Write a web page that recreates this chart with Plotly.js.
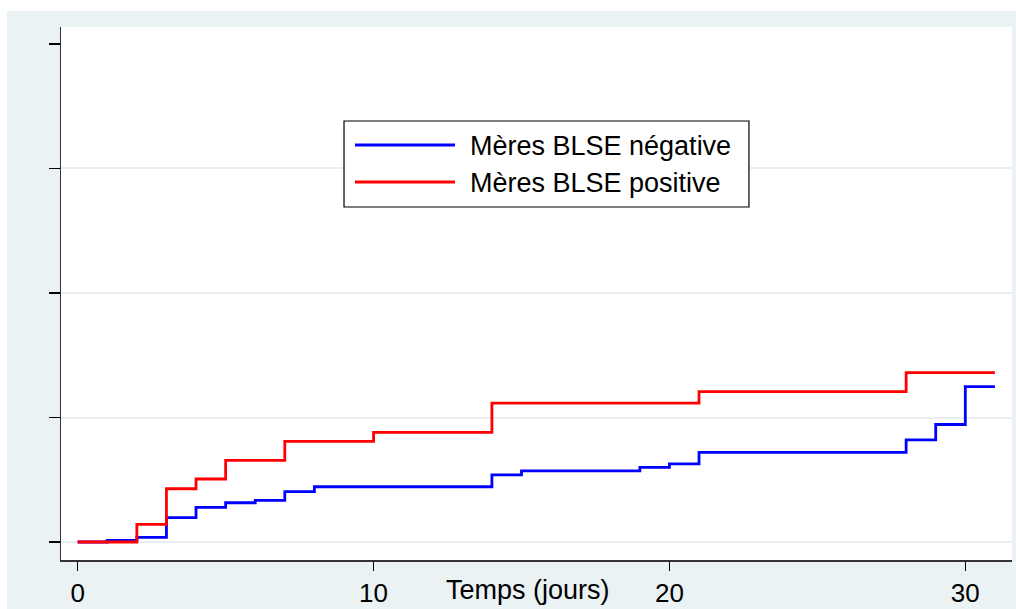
<!DOCTYPE html>
<html>
<head>
<meta charset="utf-8">
<script src="https://cdn.plot.ly/plotly-3.0.1.min.js"></script>
<style>
  html, body { margin: 0; padding: 0; background: #ffffff; width: 1016px; height: 609px; overflow: hidden; }
  #chart { position: absolute; left: 7px; top: 11px; width: 1009px; height: 598px; }
</style>
</head>
<body>
<div id="chart"></div>
<script>
// ---- Data ----
const seriesNames = ["Mères BLSE négative", "Mères BLSE positive"];
const seriesColors = ["#0000ff", "#ff0000"];

// Blue: Mères BLSE négative (step function, hv)
const negDays = [0, 1, 2, 3, 4, 5, 6, 7, 8, 14, 15, 19, 20, 21, 28, 29, 30, 31];
const negVals = [0, 0.0034, 0.0094, 0.0488, 0.0697, 0.0789, 0.0837, 0.101, 0.111, 0.135, 0.143, 0.150, 0.157, 0.180, 0.205, 0.236, 0.312, 0.312];

// Red: Mères BLSE positive
const posDays = [0, 2, 3, 4, 5, 7, 10, 14, 21, 28, 31];
const posVals = [0, 0.0355, 0.107, 0.1265, 0.164, 0.202, 0.220, 0.279, 0.302, 0.340, 0.340];

const xTickVals = [0, 10, 20, 30];
const xTickText = ["0", "10", "20", "30"];
const yTickVals = [0, 0.25, 0.5, 0.75, 1];
const yGridVals = [0, 0.25, 0.5, 0.75];
const xAxisTitle = "Temps (jours)";

// ---- Chart ----
const FONT = "Liberation Sans, Arial, Helvetica, sans-serif";
const xRange = [-0.564, 31.578];
const yRange = [-0.0361, 1.0341];

const traces = [
  { x: negDays, y: negVals, type: "scatter", mode: "lines", name: seriesNames[0],
    line: { shape: "hv", color: seriesColors[0], width: 2.8 }, showlegend: false, xaxis: "x", yaxis: "y" },
  { x: posDays, y: posVals, type: "scatter", mode: "lines", name: seriesNames[1],
    line: { shape: "hv", color: seriesColors[1], width: 2.8 }, showlegend: false, xaxis: "x", yaxis: "y" }
];

// Manual legend (box, line samples, labels) in paper coordinates
const legBox = { x0: 0.2976, x1: 0.7234, y0: 0.6623, y1: 0.8236 };
const legLineX = [0.3091, 0.4143];
const legRowY = [0.7786, 0.7092];
const legTextX = 0.4279;
const legTextY = [0.7767, 0.7073];

const shapes = [
  { type: "rect", xref: "paper", yref: "paper", x0: legBox.x0, x1: legBox.x1, y0: legBox.y0, y1: legBox.y1,
    line: { color: "#000000", width: 1.2 }, fillcolor: "#ffffff", layer: "above" }
];
const annotations = [];
seriesNames.forEach((nm, i) => {
  shapes.push({ type: "line", xref: "paper", yref: "paper", x0: legLineX[0], x1: legLineX[1], y0: legRowY[i], y1: legRowY[i],
    line: { color: seriesColors[i], width: 2.8 }, layer: "above" });
  annotations.push({ xref: "paper", yref: "paper", x: legTextX, y: legTextY[i], xanchor: "left", yanchor: "middle",
    text: nm, showarrow: false, font: { family: FONT, size: 27, color: "#000000" } });
});
annotations.push({ xref: "paper", yref: "paper", x: 0.491, y: -0.0563, xanchor: "center", yanchor: "middle",
  text: xAxisTitle, showarrow: false, font: { family: FONT, size: 27, color: "#000000" } });

const layout = {
  width: 1009, height: 598,
  margin: { l: 54, r: 4, t: 16, b: 49, pad: 0 },
  paper_bgcolor: "#eaf2f3",
  plot_bgcolor: "#ffffff",
  font: { family: FONT, size: 26, color: "#000000" },
  showlegend: false,
  xaxis: {
    range: xRange, tickvals: xTickVals, ticktext: xTickText,
    ticks: "outside", ticklen: 9, tickwidth: 1.2, tickcolor: "#000000",
    showline: true, linecolor: "#333333", linewidth: 1.5,
    showgrid: false, zeroline: false, fixedrange: true,
    tickfont: { family: FONT, size: 26, color: "#000000" }
  },
  yaxis: {
    range: yRange, tickvals: yTickVals, showticklabels: false,
    ticks: "outside", ticklen: 11, tickwidth: 1.5, tickcolor: "#000000",
    showline: true, linecolor: "#333333", linewidth: 1.5,
    showgrid: false, zeroline: false, fixedrange: true
  },
  yaxis2: {
    overlaying: "y", range: yRange, tickvals: yGridVals, showticklabels: false,
    ticks: "", showline: false, showgrid: true, gridcolor: "#e8eff1", gridwidth: 2,
    zeroline: false, fixedrange: true
  },
  shapes: shapes,
  annotations: annotations
};

// grid carrier trace for yaxis2 (invisible)
traces.unshift({ x: [xRange[0]], y: [yRange[0]], type: "scatter", mode: "markers", marker: { opacity: 0 },
  hoverinfo: "skip", showlegend: false, xaxis: "x", yaxis: "y2" });

Plotly.newPlot("chart", traces, layout, { staticPlot: true, displayModeBar: false });
</script>
</body>
</html>
